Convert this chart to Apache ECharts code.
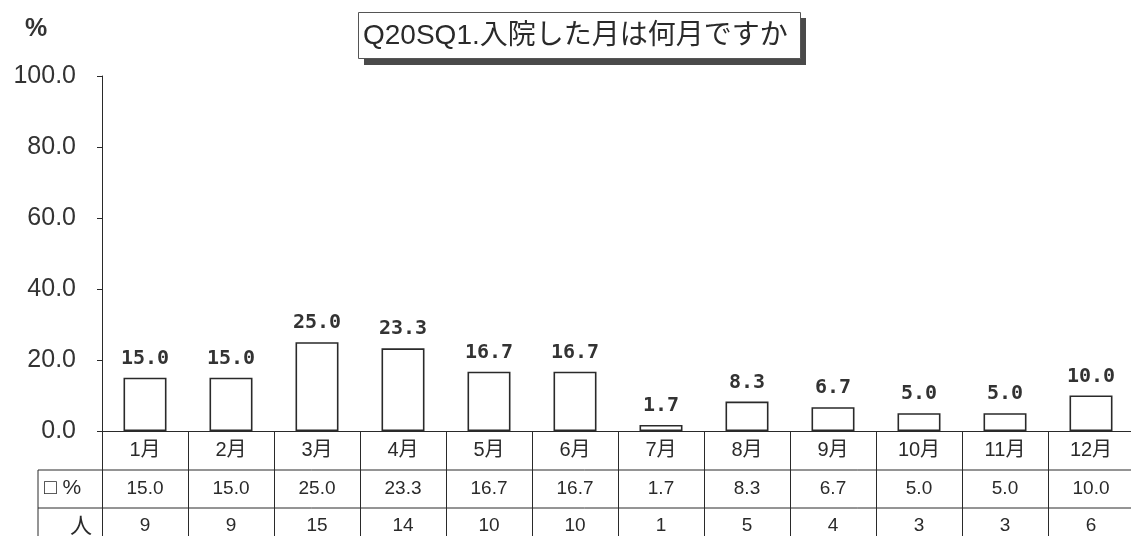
<!DOCTYPE html>
<html>
<head>
<meta charset="utf-8">
<script src="https://cdn.jsdelivr.net/npm/echarts@6/dist/echarts.min.js"></script>
<style>
  html, body { margin: 0; padding: 0; background: #fff; }
  #chart { width: 1131px; height: 536px; }
</style>
</head>
<body>
<div id="chart"></div>
<script>
const months = ['1月', '2月', '3月', '4月', '5月', '6月', '7月', '8月', '9月', '10月', '11月', '12月']
const percents = [15.0, 15.0, 25.0, 23.3, 16.7, 16.7, 1.7, 8.3, 6.7, 5.0, 5.0, 10.0]
const counts = [9, 9, 15, 14, 10, 10, 1, 5, 4, 3, 3, 6]
const yTicks = [0, 20, 40, 60, 80, 100]

const ink = '#2a2a2a'
const tableFont = '"Liberation Sans", "Noto Sans CJK JP", sans-serif'

const myChart = echarts.init(document.getElementById('chart'))
myChart.setOption({
    backgroundColor: '#fff',
    animation: false,
    title: {
        text: 'Q20SQ1.入院した月は何月ですか',
        left: 358,
        top: 12,
        z: 10,
        padding: [10, 13, 9, 5],
        backgroundColor: '#fff',
        borderColor: '#555',
        borderWidth: 1,
        textStyle: {
            fontFamily: '"Liberation Sans", "Noto Sans CJK JP", sans-serif',
            fontSize: 28,
            fontWeight: 'normal',
            color: ink
        }
    },
    grid: { left: 102, right: -3, top: 76, bottom: 105, containLabel: false, outerBoundsMode: 'none' },
    xAxis: {
        type: 'category',
        data: months,
        axisLine: { lineStyle: { color: ink, width: 1.2 } },
        axisTick: { show: true, interval: 0, length: 106, lineStyle: { color: ink, width: 1 } },
        axisLabel: {
            margin: 0,
            interval: 0,
            formatter: (val, i) => '{m|' + val + '}\n{p|' + percents[i].toFixed(1) + '}\n{n|' + counts[i] + '}',
            rich: {
                m: { fontFamily: tableFont, fontSize: 20, color: ink, lineHeight: 39, height: 39 },
                p: { fontFamily: tableFont, fontSize: 19, color: ink, lineHeight: 38, height: 38 },
                n: { fontFamily: tableFont, fontSize: 19, color: ink, lineHeight: 36, height: 36 }
            }
        }
    },
    yAxis: {
        type: 'value',
        min: yTicks[0],
        max: yTicks[yTicks.length - 1],
        interval: 20,
        splitLine: { show: false },
        axisLine: { show: true, lineStyle: { color: ink, width: 1 } },
        axisTick: { show: true, length: 5, lineStyle: { color: ink } },
        axisLabel: {
            margin: 26,
            formatter: v => v.toFixed(1),
            fontFamily: '"Liberation Sans", sans-serif',
            fontSize: 25,
            color: '#333'
        }
    },
    series: [{
        type: 'bar',
        data: percents,
        barWidth: 43,
        itemStyle: { color: '#fff', borderColor: ink, borderWidth: 1.6 },
        label: {
            show: true,
            position: 'top',
            distance: 9,
            formatter: p => p.value.toFixed(1),
            fontFamily: '"DejaVu Sans Mono", monospace',
            fontWeight: 'bold',
            fontSize: 20,
            color: '#333'
        }
    }],
    graphic: [
        // title drop shadow
        { type: 'rect', z: 1, shape: { x: 364, y: 18, width: 442, height: 47 }, style: { fill: '#4a4a4a' } },
        { type: 'text', left: 25, top: 17, style: { text: '%', fontFamily: '"Liberation Sans", sans-serif', fontSize: 25, fontWeight: 'bold', fill: '#333' } },
        { type: 'line', shape: { x1: 38, y1: 470, x2: 1131, y2: 470 }, style: { stroke: ink, lineWidth: 1 } },
        { type: 'line', shape: { x1: 38, y1: 508, x2: 1131, y2: 508 }, style: { stroke: ink, lineWidth: 1 } },
        { type: 'line', shape: { x1: 38, y1: 470, x2: 38, y2: 536 }, style: { stroke: ink, lineWidth: 1 } },
        { type: 'text', left: 44, top: 478, style: { text: '□ %', fontFamily: tableFont, fontSize: 21, fill: ink } },
        { type: 'text', left: 70, top: 514, style: { text: '人', fontFamily: '"Noto Sans CJK JP", sans-serif', fontSize: 22, fill: ink } }
    ]
})
</script>
</body>
</html>
